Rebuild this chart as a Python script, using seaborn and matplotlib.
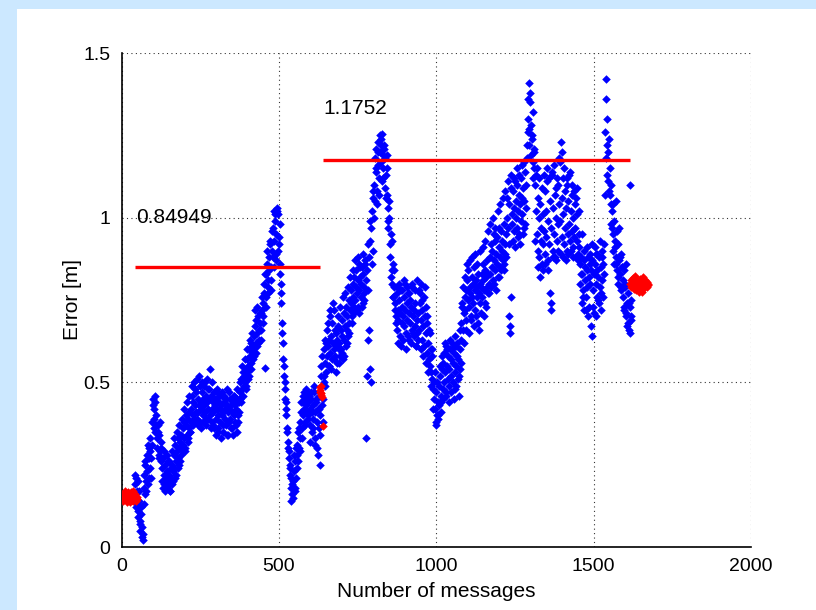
import numpy as np
import pandas as pd
import matplotlib
matplotlib.use("Agg")
import matplotlib.pyplot as plt
from matplotlib.patches import Rectangle
import seaborn as sns

# ---------------- data ----------------
# main sweep of blue error samples (every 2nd message, starting at 42)
blue_start = 42
blue_step = 2
blue_y = [
    0.19,0.15,0.21,0.13,0.17,0.11, 0.09,0.14,0.07,0.05,0.10,0.03,0.06,0.02, 0.18,0.22,0.16,0.25,0.20,0.28,0.23,0.19,0.27,0.30,0.24,
    0.29,0.21,0.31, 0.38,0.45,0.42,0.36,0.44,0.35,0.40,0.33, 0.30,0.37,0.27,0.34,0.29,0.32,0.26, 0.24,0.20,0.27,0.22,0.19,0.25,0.21,
    0.18,0.23,0.20,0.26,0.19,0.22,0.17,0.24,0.21,0.19,0.25, 0.23,0.28,0.24,0.31,0.26,0.22,0.29,0.33,0.27,0.30,0.25,0.32,0.28, 0.34,
    0.30,0.36,0.31,0.38,0.33,0.29,0.37,0.40,0.34,0.39,0.32,0.36,0.41,0.35, 0.42,0.38,0.46,0.40,0.44,0.39,0.48,0.43,0.41,0.47,0.39,
    0.45,0.41,0.43,0.49,0.38,0.44,0.42,0.47,0.40,0.45,0.43,0.50,0.41,0.46,0.39,0.44,0.48,0.42,0.45,0.40, 0.54,0.46,0.42,0.38,0.44,
    0.41,0.36,0.43,0.45,0.39,0.42,0.47,0.40,0.35,0.44,0.42,0.38,0.43,0.46,0.40,0.41,0.37,0.44,0.42,0.39,0.45,0.34,0.43,0.41,0.38,
    0.42,0.45,0.39,0.43,0.41,0.36,0.44,0.40,0.46,0.38,0.43,0.42,0.35,0.45,0.40,0.44,0.41, 0.47,0.45,0.51,0.48,0.46,0.53,0.49,0.52,
    0.50,0.54,0.48, 0.53,0.57,0.55,0.60,0.52,0.58,0.62,0.56,0.59,0.61, 0.60,0.64,0.58,0.67,0.62,0.69,0.65,0.61,0.70,0.66,0.63,0.68,
    0.71,0.66,0.72,0.68, 0.74,0.80,0.77,0.545,0.83,0.76,0.86,0.81,0.79,0.88,0.84,0.92,0.78,0.85, 0.90,0.97,0.88,1.02,0.93,0.99,0.87,
    0.95,1.03,0.90,1.01,0.94,0.98, 0.86,0.80,0.74,0.68,0.62,0.57,0.52,0.48,0.45, 0.40,0.44,0.36,0.32,0.30, 0.27,0.22,0.25,0.18,0.21,
    0.16,0.20,0.15,0.23,0.18,0.26,0.21,0.28, 0.31,0.26,0.35,0.30,0.38,0.33,0.41,0.36,0.44,0.40,0.46,0.42,0.38,0.45,0.43,0.47,0.41,
    0.44,0.40,0.46,0.42,0.37,0.45,0.41,0.35,0.43,0.39,0.47,0.33,0.41,0.44,0.38,0.30,0.42,0.36,0.46,0.40,0.34,0.55,0.43,0.58,0.45,
    0.52,0.60,0.49,0.56,0.62, 0.58,0.66,0.61,0.55,0.63,0.70,0.59,0.64,0.57,0.68,0.62,0.60,0.72,0.58,0.65,0.61,0.56,0.63,0.67,0.60,
    0.62,0.58,0.66,0.60,0.69,0.64,0.57,0.71,0.63,0.67,0.61,0.73,0.66,0.70,0.64,0.75,0.68, 0.72,0.78,0.74,0.70,0.80,0.76,0.73,0.82,
    0.75,0.79,0.84,0.77,0.81,0.73,0.86,0.78,0.82,0.76,0.80,0.85,0.74,0.83,0.79,0.77,0.86,0.81,0.33,0.84,0.78,0.63, 0.88,0.54,0.93,
    0.97,0.50,1.02,0.90,1.06, 1.10,1.18,1.05,1.21,1.14,1.08,1.23,1.16,1.12,1.20,1.25,1.17,1.22,1.11,1.19,1.15,1.21,1.09,1.18,1.13,
    1.19,1.07, 1.03,0.97,1.00,0.92,0.88,0.95,0.84,0.80,0.86,0.76,0.79,0.72,0.74,0.70,0.77, 0.66,0.72,0.69,0.75,0.64,0.71,0.78,0.68,
    0.73,0.70,0.76,0.67,0.80,0.72,0.65,0.74,0.69,0.77,0.71,0.63,0.75,0.68,0.73,0.66,0.79,0.70,0.64,0.72,0.67,0.74,0.61,0.69,0.65,
    0.71,0.78,0.66,0.74, 0.69,0.80,0.63,0.72,0.67,0.76,0.61,0.70,0.65,0.73,0.59,0.68,0.62,0.57,0.66,0.55,0.60,0.53,0.58,0.51,0.48,
    0.45,0.50,0.42,0.38,0.47,0.40,0.44,0.39,0.49,0.43,0.52,0.46,0.41,0.54,0.48, 0.56,0.50,0.59,0.53,0.47,0.61,0.55,0.51,0.58,0.49,
    0.54,0.60,0.52,0.57,0.62,0.50,0.56,0.59,0.53,0.48,0.61,0.55,0.58,0.51,0.57,0.46,0.60,0.54,0.63, 0.68,0.74,0.66,0.79,0.71,0.76,
    0.72,0.78,0.69,0.81,0.75,0.84,0.73,0.79,0.77,0.70,0.82,0.76,0.80,0.74,0.85,0.78,0.72,0.81,0.76,0.79,0.68,0.83,0.77,0.80,0.74,
    0.79,0.83,0.76,0.81,0.86,0.78,0.84,0.74,0.82,0.79,0.87,0.77,0.83,0.80, 0.88,0.83,0.92,0.85,0.90,0.81,0.95,0.87,0.84,0.93,0.89,
    0.86,0.94,0.82,0.91,0.97,0.88,0.85,0.96,0.90,0.93,0.87,0.98,0.84,0.92,0.89,0.95, 1.00,1.06,0.97,0.70,1.04,0.65,1.09,0.76,1.01,
    0.98,1.08,1.03,0.96,1.11,1.00,1.05,0.97,1.10,1.02,1.07,0.95,1.04,1.12,0.99,1.06,1.01,1.09,0.97,1.05,1.14,1.03,1.10, 1.18,1.26,
    1.30,1.22,1.41,1.35,1.19,1.28,1.24,1.32,1.17,1.21,1.15, 1.10,1.02,1.13,0.95,1.06,0.90,1.00,0.88,1.04,0.93,0.97,0.86,1.01,0.92,
    0.96,1.08,0.89,1.02,0.94,1.11,0.87,0.99,0.92,0.77,1.05,0.72,0.97,1.13,0.90,1.03,0.95,1.07,0.88,1.00,1.09,0.93,1.10,0.98,1.04,
    0.99,1.17,1.23,1.06,0.94,1.12,1.01,0.92,1.08,0.97,1.03,0.90,1.10,0.95,1.05,0.98,1.14,0.93,1.02,0.96,1.07,0.91,1.00,0.94,1.04,
    0.97,1.06,0.93,1.01,0.89,0.95,0.91, 0.86,0.80,0.88,0.74,0.83,0.78,0.87,0.72,0.81,0.85,0.76,0.84,0.79,0.88,0.73,0.82,0.86,0.80,
    0.84,0.64,0.87,0.78,0.83,0.71,0.86,0.80,0.89,0.76,0.84,0.82,0.74,0.88,0.79,0.85,0.77,0.90,0.81,0.86,0.83, 0.92,1.07,1.18,1.42,
    1.30,1.22,1.11,1.24,1.08,1.15,1.04,0.98, 1.02,0.95,0.90,0.99,0.86,0.93,1.05,0.88,0.84,0.92,0.80,0.87,0.97,0.83,0.78,0.89,0.85,
    0.81,0.76,0.84,0.72,0.79,0.70,0.86,0.74,0.68,0.77,0.66,0.73,1.10,0.69,0.75,
]
blue_x = np.arange(blue_start, blue_start + blue_step * len(blue_y), blue_step)

# additional blue samples (every 4th message, starting at 43) at the edges of the cloud
blue2_start = 43
blue2_step = 4
blue2_y = [
    0.22,0.12,0.20,0.17,0.08,0.12,0.04,0.13,0.26,0.17,0.31,0.21,0.33,0.27,0.43,0.39,0.46,0.37,0.35,0.28,0.38,0.30,0.18,0.29,0.17,
    0.28,0.18,0.26,0.17,0.29,0.20,0.33,0.21,0.35,0.24,0.37,0.26,0.39,0.29,0.42,0.30,0.44,0.33,0.46,0.35,0.49,0.37,0.50,0.38,0.51,
    0.37,0.52,0.36,0.50,0.38,0.49,0.37,0.51,0.39,0.48,0.36,0.50,0.37,0.47,0.34,0.48,0.36,0.46,0.33,0.47,0.35,0.46,0.37,0.48,0.34,
    0.47,0.36,0.45,0.34,0.46,0.37,0.48,0.38,0.50,0.44,0.55,0.46,0.57,0.49,0.60,0.51,0.63,0.54,0.65,0.57,0.72,0.59,0.73,0.62,0.71,
    0.63,0.76,0.70,0.83,0.73,0.90,0.77,0.93,0.81,0.96,0.85,1.01,0.89,1.02,0.92,0.83,0.77,0.65,0.55,0.50,0.42,0.35,0.29,0.24,0.14,
    0.19,0.28,0.17,0.30,0.24,0.36,0.29,0.44,0.33,0.47,0.37,0.48,0.39,0.46,0.32,0.47,0.36,0.49,0.31,0.45,0.28,0.42,0.25,0.52,0.38,
    0.50,0.63,0.53,0.68,0.55,0.72,0.54,0.74,0.57,0.66,0.53,0.70,0.56,0.73,0.59,0.76,0.58,0.77,0.62,0.79,0.65,0.82,0.68,0.84,0.71,
    0.87,0.72,0.88,0.71,0.85,0.73,0.89,0.75,0.87,0.52,0.92,0.66,0.99,0.86,1.08,1.00,1.15,1.04,1.20,1.07,1.24,1.255,1.12,1.22,1.06,
    1.15,0.99,1.05,0.82,0.93,0.76,0.84,0.68,0.79,0.62,0.80,0.61,0.78,0.63,0.81,0.60,0.79,0.64,0.77,0.62,0.80,0.65,0.78,0.61,0.81,
    0.63,0.77,0.60,0.75,0.58,0.79,0.56,0.70,0.53,0.65,0.49,0.60,0.42,0.53,0.37,0.50,0.40,0.55,0.44,0.58,0.45,0.62,0.46,0.60,0.44,
    0.63,0.47,0.60,0.45,0.64,0.49,0.62,0.52,0.66,0.56,0.73,0.62,0.82,0.66,0.86,0.65,0.87,0.69,0.88,0.67,0.89,0.70,0.86,0.66,0.90,
    0.71,0.91,0.70,0.93,0.73,0.96,0.77,0.98,0.79,1.00,0.80,0.97,0.78,1.02,0.82,1.04,0.84,1.06,0.86,1.08,0.88,1.11,0.92,0.67,1.13,
    0.93,1.12,0.91,1.15,0.94,1.13,0.92,1.16,0.95,1.17,0.98,1.22,1.36,1.27,1.38,1.25,1.12,1.20,0.93,1.15,0.85,1.12,0.82,1.09,0.84,
    1.13,0.86,1.15,0.84,1.12,0.74,1.14,0.88,1.16,0.87,1.12,0.90,1.18,0.89,1.20,0.88,1.15,0.87,1.12,0.89,1.13,0.90,1.10,0.88,1.08,
    0.88,1.09,0.87,1.02,0.83,0.95,0.76,0.90,0.72,0.91,0.70,0.89,0.67,0.92,0.73,0.91,0.70,0.89,0.75,0.93,0.72,0.88,0.76,1.26,1.36,
    1.13,1.20,1.07,1.10,0.97,1.04,0.91,0.86,0.96,0.82,0.88,0.79,0.85,0.73,0.80,0.71,0.67,0.74,0.65,0.70,
]
blue2_x = np.arange(blue2_start, blue2_start + blue2_step * len(blue2_y), blue2_step)

red1_x = [4, 6, 8, 10, 12, 14, 16, 18, 20, 22, 24, 26, 28, 30, 32, 34, 36, 38, 40, 42, 44, 46, 48, 50]
red1_y = [0.155, 0.140, 0.165, 0.147, 0.170, 0.158, 0.138, 0.150, 0.168, 0.145, 0.160, 0.136,
          0.152, 0.166, 0.143, 0.157, 0.171, 0.141, 0.153, 0.148, 0.162, 0.139, 0.151, 0.146]
red2_x = [630, 631, 632, 633, 634, 635, 637, 639]
red2_y = [0.470, 0.485, 0.478, 0.462, 0.490, 0.468, 0.455, 0.367]
red3_x = [1616, 1618, 1620, 1622, 1624, 1626, 1628, 1630, 1632, 1634, 1636, 1638, 1640, 1642,
          1644, 1646, 1648, 1650, 1652, 1654, 1656, 1658, 1660, 1662, 1664, 1666, 1668, 1670, 1672, 1674]
red3_y = [0.800, 0.812, 0.790, 0.806, 0.818, 0.795, 0.783, 0.808, 0.822, 0.797, 0.779, 0.812,
          0.788, 0.802, 0.774, 0.815, 0.793, 0.781, 0.806, 0.775, 0.798, 0.820, 0.787, 0.803,
          0.812, 0.795, 0.806, 0.790, 0.800, 0.796]

line1_x = [42, 630]
line1_val = 0.84949
line2_x = [640, 1616]
line2_val = 1.1752

x_ticks = [0, 500, 1000, 1500, 2000]
y_ticks = [0, 0.5, 1, 1.5]
y_tick_labels = ["0", "0.5", "1", "1.5"]

# ---------------- figure ----------------
sns.set_style("white")
plt.rcParams['font.family'] = ['Liberation Sans', 'DejaVu Sans']
plt.rcParams['text.color'] = 'black'
plt.rcParams['axes.labelcolor'] = 'black'
plt.rcParams['xtick.color'] = 'black'
plt.rcParams['ytick.color'] = 'black'

W, H = 816, 610
fig = plt.figure(figsize=(W / 100, H / 100), dpi=100, facecolor="#CCE8FF")
fig.patches.append(Rectangle((17 / W, 0), 1 - 17 / W, (H - 9) / H,
                             transform=fig.transFigure, facecolor="white",
                             edgecolor="none", zorder=-10))
ax = fig.add_axes([121.5 / W, (H - 547) / H, (751 - 121.5) / W, (547 - 53) / H])
ax.set_facecolor("white")
ax.set_zorder(1)

blue_df = pd.DataFrame({"msg": np.concatenate([blue_x, blue2_x]),
                        "err": blue_y + blue2_y})
red_df = pd.DataFrame({"msg": red1_x + red2_x + red3_x,
                       "err": red1_y + red2_y + red3_y})

sns.scatterplot(data=blue_df, x="msg", y="err", ax=ax, color="#0000FF",
                marker="D", s=19, linewidth=0, zorder=3)
sns.scatterplot(data=red_df, x="msg", y="err", ax=ax, color="#FF0000",
                marker="D", s=19, linewidth=0, zorder=4)

ax.plot(line1_x, [line1_val] * 2, color="#FF0000", lw=2.4, zorder=5, solid_capstyle="butt")
ax.plot(line2_x, [line2_val] * 2, color="#FF0000", lw=2.4, zorder=5, solid_capstyle="butt")

ax.text(line1_x[0] + 4, 1.0, f"{line1_val:.5g}", fontsize=15, va="center", ha="left",
        color="black", zorder=6)
ax.text(line2_x[0] + 2, 1.33, f"{line2_val:.5g}", fontsize=15, va="center", ha="left",
        color="black", zorder=6)

ax.set_xlim(0, 2000)
ax.set_ylim(0, 1.5)
ax.set_xticks(x_ticks)
ax.set_xticklabels([str(t) for t in x_ticks])
ax.set_yticks(y_ticks)
ax.set_yticklabels(y_tick_labels)
ax.grid(True, linestyle=(0, (1, 3)), color="black", linewidth=0.8, alpha=0.8)
ax.set_axisbelow(True)

for s in ["top", "right"]:
    ax.spines[s].set_visible(False)
for s in ["left", "bottom"]:
    ax.spines[s].set_color("black")
    ax.spines[s].set_linewidth(1.2)
ax.tick_params(direction="in", length=5, width=1, colors="black", labelsize=14)
ax.tick_params(axis="x", pad=8)
ax.tick_params(axis="y", pad=8)

ax.set_xlabel("Number of messages", fontsize=15, labelpad=5)
ax.set_ylabel("Error [m]", fontsize=15, labelpad=1)

fig.savefig("out.png", dpi=100, facecolor=fig.get_facecolor())
